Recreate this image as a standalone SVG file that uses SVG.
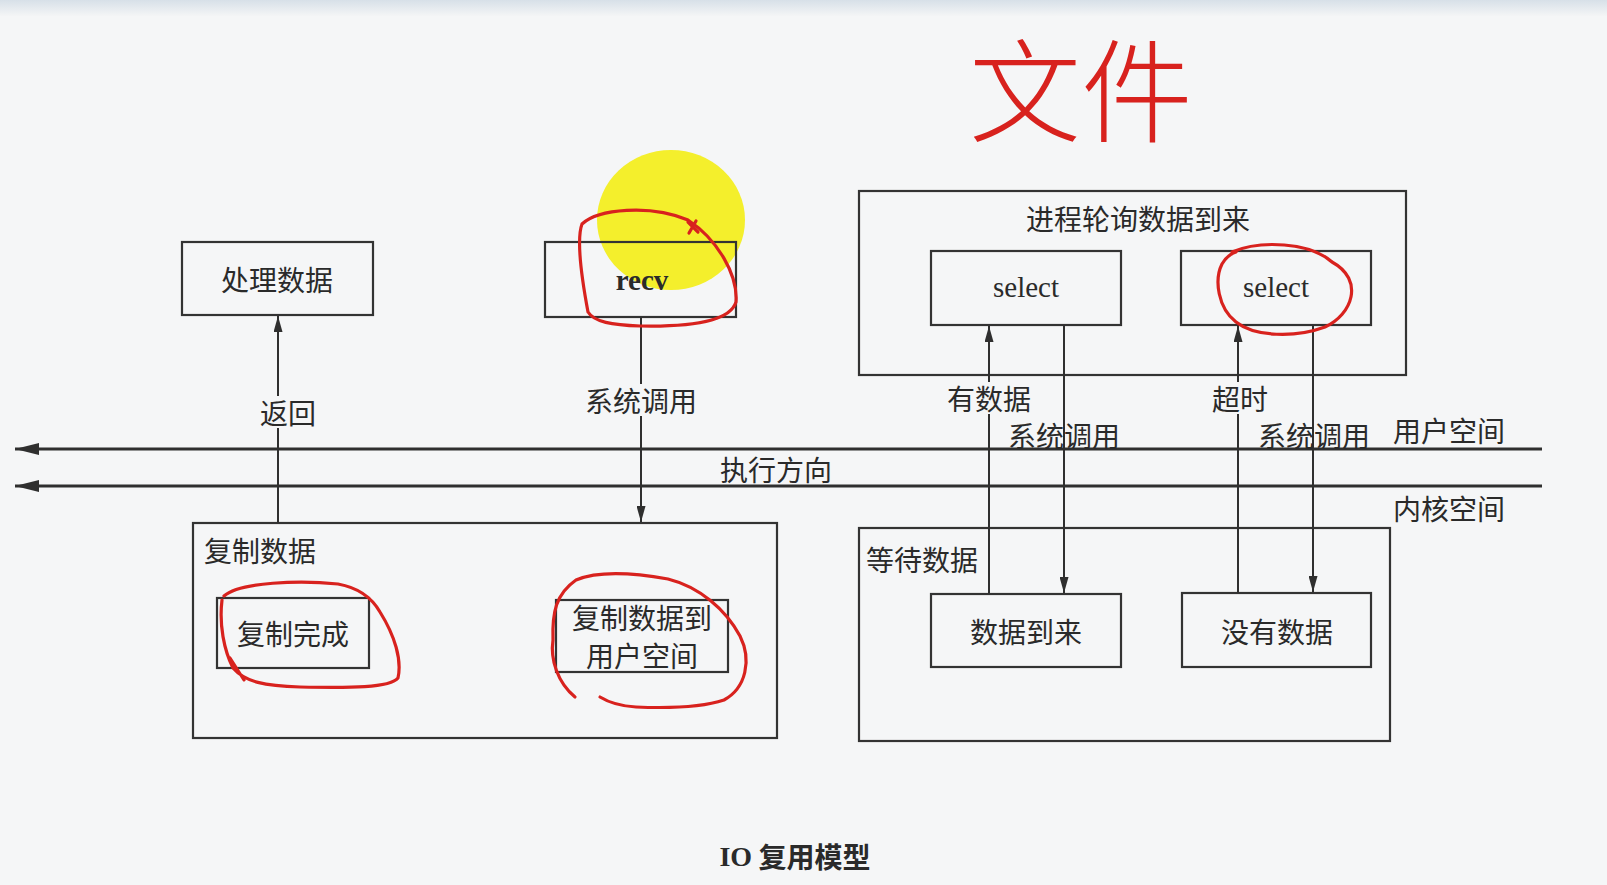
<svg xmlns="http://www.w3.org/2000/svg" width="1607" height="885" viewBox="0 0 1607 885">
<defs>
<linearGradient id="topband" x1="0" y1="0" x2="0" y2="1">
<stop offset="0" stop-color="#d7e0e8"/>
<stop offset="1" stop-color="#f4f5f6"/>
</linearGradient>
<marker id="arr" markerWidth="16" markerHeight="9" refX="16" refY="4.5" orient="auto" markerUnits="userSpaceOnUse">
<path d="M0,0 L16,4.5 L0,9 z" fill="#2f2f2f"/>
</marker>
<marker id="arrbig" markerWidth="24" markerHeight="12" refX="24" refY="6" orient="auto" markerUnits="userSpaceOnUse">
<path d="M0,0 L24,6 L0,12 z" fill="#2f2f2f"/>
</marker>
<style>
.box{fill:none;stroke:#333;stroke-width:2.2}
.t{font-family:"Noto Sans CJK SC","Liberation Sans",sans-serif;font-size:28px;fill:#2a2a2a;text-anchor:middle;dominant-baseline:central}
.tl{font-family:"Noto Sans CJK SC","Liberation Sans",sans-serif;font-size:28px;fill:#2a2a2a;dominant-baseline:central}
.en{font-family:"Liberation Serif",serif;font-size:29px;fill:#2a2a2a;text-anchor:middle;dominant-baseline:central}
.ln{stroke:#2f2f2f;stroke-width:2;fill:none}
.hl{stroke:#2f2f2f;stroke-width:3.2;fill:none}
.bg{fill:#f5f6f7}
.red{fill:none;stroke:#d8221e;stroke-width:3.2;stroke-linecap:round;stroke-linejoin:round}
</style>
</defs>
<rect x="0" y="0" width="1607" height="885" fill="#f5f6f7"/>
<rect x="0" y="0" width="1607" height="16" fill="url(#topband)"/>

<g id="highlight">
<ellipse cx="671" cy="220" rx="74" ry="70" fill="#f3ee1a" opacity="0.92"/>
</g>

<g id="n-process">
<rect class="box" x="182" y="242" width="191" height="73"/>
<text class="t" x="277" y="279">处理数据</text>
</g>
<g id="n-recv">
<rect class="box" x="545" y="242" width="191" height="75"/>
<text class="en" x="642" y="280" font-weight="bold">recv</text>
</g>
<g id="n-poll">
<rect class="box" x="859" y="191" width="547" height="184"/>
<text class="t" x="1138" y="218">进程轮询数据到来</text>
</g>
<g id="n-select1">
<rect class="box" x="931" y="251" width="190" height="74"/>
<text class="en" x="1026" y="287">select</text>
</g>
<g id="n-select2">
<rect class="box" x="1181" y="251" width="190" height="74"/>
<text class="en" x="1276" y="287">select</text>
</g>
<g id="n-copy">
<rect class="box" x="193" y="523" width="584" height="215"/>
<text class="tl" x="204" y="550">复制数据</text>
</g>
<g id="n-copydone">
<rect class="box" x="217" y="598" width="152" height="70"/>
<text class="t" x="293" y="633">复制完成</text>
</g>
<g id="n-copyuser">
<rect class="box" x="556" y="600" width="172" height="72"/>
<text class="t" x="642" y="617" font-size="26">复制数据到</text>
<text class="t" x="642" y="655" font-size="26">用户空间</text>
</g>
<g id="n-wait">
<rect class="box" x="859" y="528" width="531" height="213"/>
<text class="tl" x="866" y="559">等待数据</text>
</g>
<g id="n-arrive">
<rect class="box" x="931" y="594" width="190" height="73"/>
<text class="t" x="1026" y="631">数据到来</text>
</g>
<g id="n-nodata">
<rect class="box" x="1182" y="593" width="189" height="74"/>
<text class="t" x="1277" y="631">没有数据</text>
</g>

<g id="connectors">
<line class="hl" x1="1542" y1="449" x2="15" y2="449" marker-end="url(#arrbig)"/>
<line class="hl" x1="1542" y1="486" x2="15" y2="486" marker-end="url(#arrbig)"/>
<line class="ln" x1="278" y1="523" x2="278" y2="316" marker-end="url(#arr)"/>
<line class="ln" x1="641" y1="317" x2="641" y2="522" marker-end="url(#arr)"/>
<line class="ln" x1="989" y1="594" x2="989" y2="326" marker-end="url(#arr)"/>
<line class="ln" x1="1064" y1="325" x2="1064" y2="593" marker-end="url(#arr)"/>
<line class="ln" x1="1238" y1="593" x2="1238" y2="326" marker-end="url(#arr)"/>
<line class="ln" x1="1313" y1="325" x2="1313" y2="592" marker-end="url(#arr)"/>
</g>

<g id="labels">
<rect class="bg" x="258" y="396" width="60" height="32"/>
<text class="t" x="288" y="412">返回</text>
<rect class="bg" x="580" y="384" width="122" height="32"/>
<text class="t" x="641" y="400">系统调用</text>
<rect class="bg" x="944" y="382" width="92" height="32"/>
<text class="t" x="989" y="398">有数据</text>
<rect class="bg" x="1210" y="382" width="60" height="32"/>
<text class="t" x="1240" y="398">超时</text>
<text class="t" x="1064" y="435">系统调用</text>
<text class="t" x="1314" y="435">系统调用</text>
<text class="t" x="1449" y="430">用户空间</text>
<text class="t" x="776" y="469">执行方向</text>
<text class="t" x="1449" y="508">内核空间</text>
<text class="t" x="795" y="856" font-weight="bold"><tspan font-family="Liberation Serif, serif">IO</tspan> 复用模型</text>
</g>

<g id="annotations">
<path class="red" d="M588,312 C582,280 576,240 582,224 C598,209 650,204 688,220 C718,240 738,275 736,302 C730,322 690,327 640,326 C612,325 594,322 588,312"/>
<path class="red" d="M688,222 L698,232 M696,221 L689,233"/>
<path class="red" d="M1232,252 C1260,240 1310,242 1332,262 C1365,280 1352,315 1325,327 C1295,338 1255,337 1236,322 C1218,308 1214,280 1222,264 C1226,257 1230,254 1236,252"/>
<path class="red" d="M224,596 C240,582 300,580 338,584 C360,588 372,598 380,612 C395,636 402,660 398,678 C390,688 350,688 300,687 C265,686 245,682 233,668 C224,650 219,625 222,600 M230,658 L244,680"/>
<path class="red" d="M575,697 C558,683 550,660 553,640 C552,612 556,594 576,580 C600,570 640,574 668,579 C700,587 726,610 740,636 C752,660 746,688 724,700 C700,708 660,708 636,707 C620,706 608,702 600,697"/>
<text x="1081" y="134" font-family="Noto Sans CJK SC, sans-serif" font-size="112" font-weight="300" fill="#d8221e" text-anchor="middle">文件</text>
</g>
</svg>
